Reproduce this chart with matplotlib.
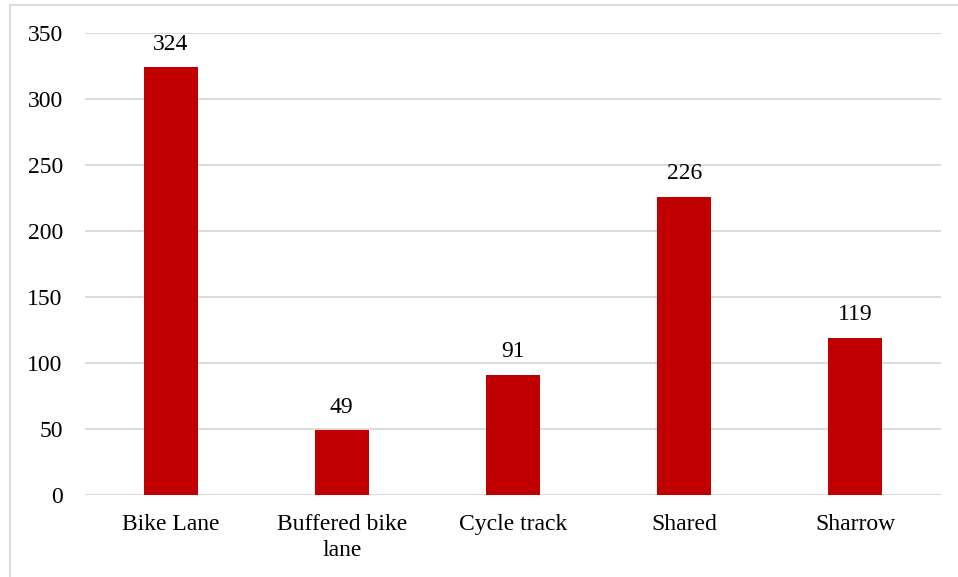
import matplotlib
matplotlib.use("Agg")
import matplotlib.pyplot as plt
from matplotlib.patches import Rectangle

categories = ["Bike Lane", "Buffered bike\nlane", "Cycle track", "Shared", "Sharrow"]
values = [324, 49, 91, 226, 119]
yticks = [0, 50, 100, 150, 200, 250, 300, 350]

plt.rcParams['font.family'] = ['Liberation Serif', 'DejaVu Serif']

W, H = 958, 577
fig = plt.figure(figsize=(W / 100, H / 100), dpi=100)
ax = fig.add_axes([85 / W, (H - 495) / H, (941 - 85) / W, (495 - 33) / H])

x = list(range(len(categories)))
bars = ax.bar(x, values, width=0.315, color="#C00000", zorder=3)
for xi, v in zip(x, values):
    ax.annotate(str(v), (xi, v), xytext=(0, 9), textcoords="offset points",
                ha="center", va="bottom", fontsize=17, color="#000000")

ax.set_xlim(-0.5, len(categories) - 0.5)
ax.set_ylim(0, 350)
ax.set_yticks(yticks)
ax.set_yticklabels([str(t) for t in yticks], fontsize=17)
ax.set_xticks(x)
ax.set_xticklabels(categories, fontsize=17, linespacing=1.3)
ax.tick_params(axis="both", length=0)
ax.tick_params(axis="y", pad=16)
ax.tick_params(axis="x", pad=14)
ax.grid(axis="y", color="#d9d9d9", linewidth=1.3, zorder=0)
for s in ax.spines.values():
    s.set_visible(False)

# outer chart frame
fig.patches.append(Rectangle((10 / W, -0.01), (W + 10) / W, (H - 5) / H + 0.01,
                             transform=fig.transFigure, fill=False,
                             edgecolor="#d9d9d9", linewidth=1.3, zorder=0))

fig.savefig("out.png", dpi=100)
